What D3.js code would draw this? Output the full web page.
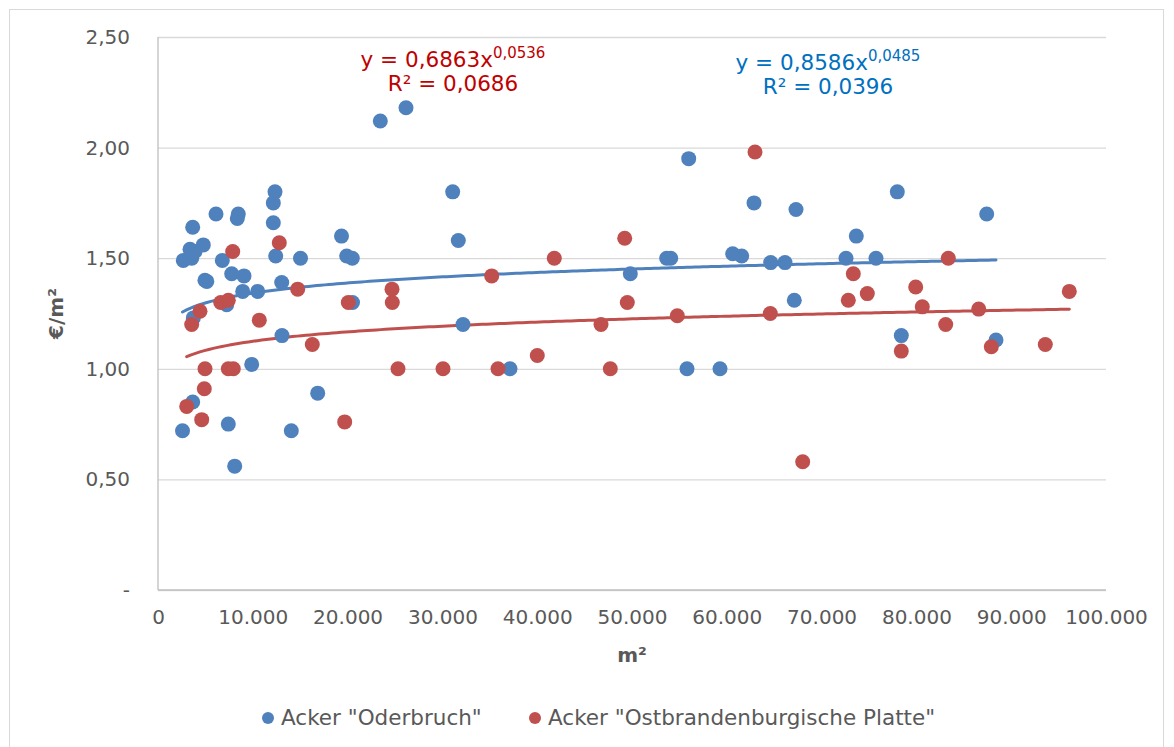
<!DOCTYPE html>
<html>
<head>
<meta charset="utf-8">
<script src="https://cdn.jsdelivr.net/npm/d3@7"></script>
<style>
  body { margin: 0; background: #fff; }
  svg { display: block; font-family: "DejaVu Sans", Verdana, sans-serif; }
</style>
</head>
<body>
<svg id="chart" width="1174" height="747"></svg>
<script>
// ---- data ----
const seriesNames = ['Acker "Oderbruch"', 'Acker "Ostbrandenburgische Platte"'];

const oderX = [2584, 3660, 3728, 2669, 3555, 3376, 3900, 4778, 3660, 4950, 5150, 6118, 6783, 7247, 7416,
  7774, 8091, 8365, 8470, 9072, 8935, 9884, 10517, 12163, 12163, 12342, 12416, 13049, 13080, 14061,
  15032, 16846, 19357, 19905, 20496, 20517, 23450, 26160, 31087, 31677, 32173, 37131, 49821, 53660,
  54082, 55981, 55802, 59283, 60622, 61572, 62869, 64631, 66139, 67300, 67120, 72574, 73660, 75738,
  77985, 78407, 87416, 88397];
const oderY = [0.72, 0.85, 1.23, 1.49, 1.50, 1.54, 1.53, 1.56, 1.64, 1.40, 1.395, 1.70, 1.49, 1.29, 0.75,
  1.43, 0.56, 1.68, 1.70, 1.42, 1.35, 1.02, 1.35, 1.66, 1.75, 1.80, 1.51, 1.39, 1.15, 0.72,
  1.50, 0.89, 1.60, 1.51, 1.50, 1.30, 2.12, 2.18, 1.80, 1.58, 1.20, 1.00, 1.43, 1.50,
  1.50, 1.95, 1.00, 1.00, 1.52, 1.51, 1.75, 1.48, 1.48, 1.72, 1.31, 1.50, 1.60, 1.50,
  1.80, 1.15, 1.70, 1.13];

const ostX = [3027, 3555, 4430, 4610, 4884, 4958, 6614, 7416, 7416, 7943, 7880, 10686, 12795, 14736,
  16276, 19694, 20074, 24684, 24715, 25316, 30063, 35200, 35865, 40010, 41804, 46730, 47711, 49230,
  49504, 54778, 62975, 64589, 68006, 72817, 73344, 74821, 78407, 79926, 80622, 83090, 83365, 86572,
  87901, 93597, 96129];
const ostY = [0.83, 1.20, 1.26, 0.77, 0.91, 1.00, 1.30, 1.31, 1.00, 1.00, 1.53, 1.22, 1.57, 1.36,
  1.11, 0.76, 1.30, 1.36, 1.30, 1.00, 1.00, 1.42, 1.00, 1.06, 1.50, 1.20, 1.00, 1.59,
  1.30, 1.24, 1.98, 1.25, 0.58, 1.31, 1.43, 1.34, 1.08, 1.37, 1.28, 1.20, 1.50, 1.27,
  1.10, 1.11, 1.35];

// power trendlines y = a * x^b
const trendA = [0.8586, 0.6863];
const trendB = [0.0485, 0.0536];
const eqLine1 = ["y = 0,8586x", "y = 0,6863x"];
const eqExp = ["0,0485", "0,0536"];
const eqLine2 = ["R² = 0,0396", "R² = 0,0686"];

const xTicks = [0, 10000, 20000, 30000, 40000, 50000, 60000, 70000, 80000, 90000, 100000];
const yTicks = [0, 0.5, 1.0, 1.5, 2.0, 2.5];

// ---- layout ----
const colors = ["#4F81BD", "#C0504D"];
const eqColors = ["#0070C0", "#C00000"];
const svg = d3.select("#chart");
const plot = { left: 158, right: 1106, top: 37, bottom: 590 };

svg.append("rect").attr("x", 9.5).attr("y", 9.5).attr("width", 1154).attr("height", 745)
  .attr("fill", "#fff").attr("stroke", "#D9D9D9");

const x = d3.scaleLinear().domain([0, 100000]).range([plot.left, plot.right]);
const y = d3.scaleLinear().domain([0, 2.5]).range([plot.bottom, plot.top]);

const fmtX = v => v === 0 ? "0" : d3.format(",")(v).replace(/,/g, ".");
const fmtY = v => v === 0 ? "-" : d3.format(".2f")(v).replace(".", ",");

// gridlines
const yAxis = d3.axisLeft(y).tickValues(yTicks).tickSize(-(plot.right - plot.left)).tickFormat(fmtY).tickPadding(28);
const gy = svg.append("g").attr("transform", `translate(${plot.left},0)`).call(yAxis);
gy.select(".domain").remove();
gy.selectAll(".tick line").attr("stroke", "#D9D9D9").attr("stroke-width", 1.3);
gy.selectAll(".tick text").attr("fill", "#595959").style("font-size", "20px")
  .style("font-family", '"DejaVu Sans", Verdana, sans-serif');

const xAxis = d3.axisBottom(x).tickValues(xTicks).tickSize(0).tickFormat(fmtX).tickPadding(20);
const gx = svg.append("g").attr("transform", `translate(0,${plot.bottom})`).call(xAxis);
gx.select(".domain").remove();
gx.selectAll(".tick text").attr("fill", "#595959").style("font-size", "20px")
  .style("font-family", '"DejaVu Sans", Verdana, sans-serif');

// axis lines
svg.append("line").attr("x1", plot.left).attr("x2", plot.left).attr("y1", plot.top).attr("y2", plot.bottom)
  .attr("stroke", "#BFBFBF").attr("stroke-width", 1.3);
svg.append("line").attr("x1", plot.left).attr("x2", plot.right).attr("y1", plot.bottom).attr("y2", plot.bottom)
  .attr("stroke", "#BFBFBF").attr("stroke-width", 1.3);

// axis titles
svg.append("text").attr("transform", `translate(56,${(plot.top + plot.bottom) / 2}) rotate(-90)`)
  .attr("text-anchor", "middle").attr("dominant-baseline", "central")
  .attr("fill", "#595959").style("font-size", "20px").style("font-weight", "bold").text("€/m²");
svg.append("text").attr("x", (plot.left + plot.right) / 2).attr("y", 662)
  .attr("text-anchor", "middle").attr("fill", "#595959").style("font-size", "20px").style("font-weight", "bold").text("m²");

// trendlines
const series = [
  { xs: oderX, ys: oderY },
  { xs: ostX, ys: ostY }
];
const line = d3.line().x(d => x(d[0])).y(d => y(d[1])).curve(d3.curveLinear);
series.forEach((s, i) => {
  const [x0, x1] = d3.extent(s.xs);
  const pts = d3.range(0, 201).map(k => {
    const xv = x0 + (x1 - x0) * k / 200;
    return [xv, trendA[i] * Math.pow(xv, trendB[i])];
  });
  svg.append("path").datum(pts).attr("d", line).attr("fill", "none")
    .attr("stroke", colors[i]).attr("stroke-width", 3).attr("stroke-linecap", "round");
});

// markers
series.forEach((s, i) => {
  svg.append("g").selectAll("circle").data(s.xs.map((xv, k) => [xv, s.ys[k]])).join("circle")
    .attr("cx", d => x(d[0])).attr("cy", d => y(d[1])).attr("r", 7.5).attr("fill", colors[i]);
});

// equations
const eqPos = [[828, 70, 94], [453, 67, 91]];
[0, 1].forEach(i => {
  const t1 = svg.append("text").attr("x", eqPos[i][0]).attr("y", eqPos[i][1]).attr("text-anchor", "middle")
    .attr("fill", eqColors[i]).style("font-size", "21.5px");
  t1.append("tspan").text(eqLine1[i]);
  t1.append("tspan").attr("dy", -9).style("font-size", "15px").text(eqExp[i]);
  svg.append("text").attr("x", eqPos[i][0]).attr("y", eqPos[i][2]).attr("text-anchor", "middle")
    .attr("fill", eqColors[i]).style("font-size", "21.5px").text(eqLine2[i]);
});

// legend
const legX = [268, 535];
seriesNames.forEach((n, i) => {
  svg.append("circle").attr("cx", legX[i]).attr("cy", 718).attr("r", 6).attr("fill", colors[i]);
  svg.append("text").attr("x", legX[i] + 13).attr("y", 725).attr("fill", "#595959")
    .style("font-size", "21.5px").text(n);
});
</script>
</body>
</html>
